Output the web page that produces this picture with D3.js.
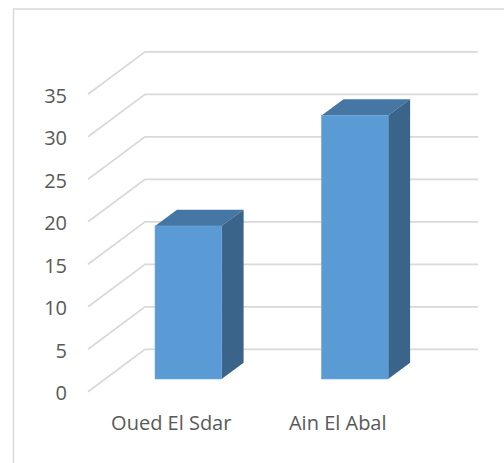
<!DOCTYPE html>
<html>
<head>
<meta charset="utf-8">
<script src="https://cdn.jsdelivr.net/npm/d3@7"></script>
<style>
  html, body { margin: 0; padding: 0; background: #fff; }
  text { font-family: "Open Sans", sans-serif; fill: #595959; }
</style>
</head>
<body>
<div id="chart"></div>
<script>
const categories = ["Oued El Sdar", "Ain El Abal"]
const values = [18, 31]
const yTicks = [0, 5, 10, 15, 20, 25, 30, 35]

const WIDTH = 504
const HEIGHT = 463
const FRONT = { LEFT: 88, RIGHT: 421, BOTTOM: 391.7, TOP: 94.2 }
const DEPTH = { DX: 57, DY: -42.4 } // oblique offset front plane -> back wall
const BAR_DEPTH = [0.3, 0.685]      // bar front/back as fraction of depth
const BAR_WIDTH = 0.4               // fraction of the band

const svg = d3.select("#chart")
  .append("svg")
  .attr("width", WIDTH)
  .attr("height", HEIGHT)

// chart frame (right and bottom run off the picture)
svg.append("rect")
  .attr("x", 13.5).attr("y", 9)
  .attr("width", 600).attr("height", 600)
  .attr("fill", "none")
  .attr("stroke", "#d9d9d9")
  .attr("stroke-width", 1.5)

const x = d3.scaleBand()
  .domain(categories)
  .range([FRONT.LEFT, FRONT.RIGHT])
  .padding(0)

const y = d3.scaleLinear()
  .domain([0, 35])
  .range([FRONT.BOTTOM, FRONT.TOP])

const depth = d3.scaleLinear().domain([0, 1]).range([0, 1])
const offX = t => DEPTH.DX * depth(t)
const offY = t => DEPTH.DY * depth(t)

// gridlines: side wall diagonal + back wall horizontal
svg.append("g")
  .selectAll("path")
  .data(yTicks)
  .join("path")
  .attr("d", v => {
    const y0 = y(v)
    return `M${FRONT.LEFT},${y0} L${FRONT.LEFT + offX(1)},${y0 + offY(1)} L${FRONT.RIGHT + offX(1)},${y0 + offY(1)}`
  })
  .attr("fill", "none")
  .attr("stroke", "#d9d9d9")
  .attr("stroke-width", 1.8)

// y labels
svg.append("g")
  .selectAll("text")
  .data(yTicks)
  .join("text")
  .attr("x", 67)
  .attr("y", v => y(v) + 1)
  .attr("text-anchor", "end")
  .attr("dominant-baseline", "central")
  .attr("font-size", 20)
  .text(d => d)

// category labels
svg.append("g")
  .selectAll("text")
  .data(categories)
  .join("text")
  .attr("x", d => x(d) + x.bandwidth() / 2)
  .attr("y", FRONT.BOTTOM + 31)
  .attr("text-anchor", "middle")
  .attr("dominant-baseline", "central")
  .attr("font-size", 20)
  .text(d => d)

// 3D bars
const bw = x.bandwidth() * BAR_WIDTH
const ddx = offX(BAR_DEPTH[1]) - offX(BAR_DEPTH[0])
const ddy = offY(BAR_DEPTH[1]) - offY(BAR_DEPTH[0])

const bars = svg.append("g")
  .selectAll("g")
  .data(categories.map((c, i) => ({ c, v: values[i] })))
  .join("g")

bars.each(function (d) {
  const g = d3.select(this)
  const xl = x(d.c) + (x.bandwidth() - bw) / 2 + offX(BAR_DEPTH[0])
  const xr = xl + bw
  const yb = y(0) + offY(BAR_DEPTH[0])
  const yt = y(d.v) + offY(BAR_DEPTH[0])

  g.append("path")
    .attr("d", `M${xl},${yt} L${xl + ddx},${yt + ddy} L${xr + ddx},${yt + ddy} L${xr},${yt} Z`)
    .attr("fill", "#4676a3")
  g.append("path")
    .attr("d", `M${xr},${yt} L${xr + ddx},${yt + ddy} L${xr + ddx},${yb + ddy} L${xr},${yb} Z`)
    .attr("fill", "#3a6489")
  g.append("rect")
    .attr("x", xl).attr("y", yt)
    .attr("width", bw).attr("height", yb - yt)
    .attr("fill", "#5b9bd5")
    .attr("stroke", "#6aa5da")
    .attr("stroke-width", 0.6)
})
</script>
</body>
</html>
